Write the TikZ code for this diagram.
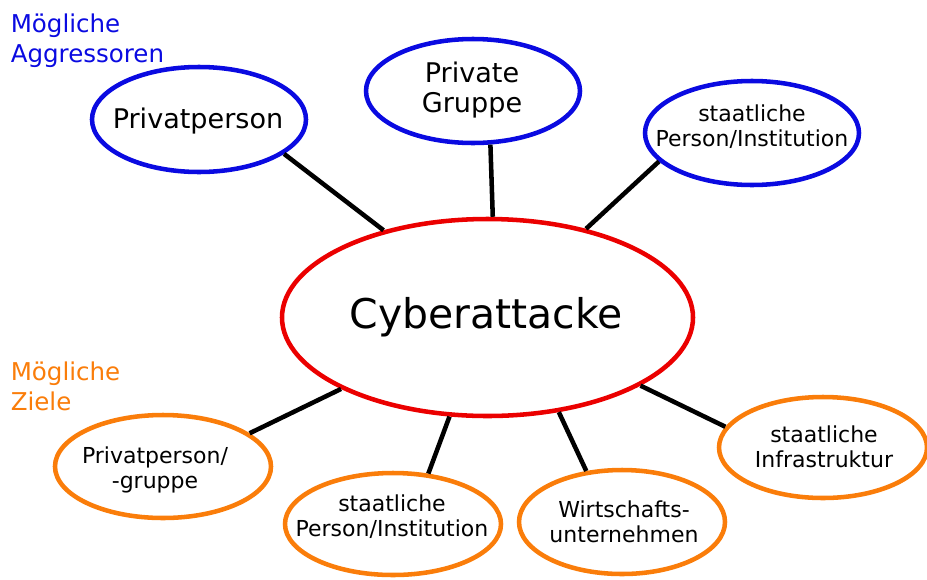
\documentclass[tikz,border=0pt]{standalone}
\usepackage{fontspec}
\setmainfont{DejaVu Sans}
\usepackage{tikz}
\usetikzlibrary{shapes,positioning}
\definecolor{aggblue}{RGB}{10,10,225}
\definecolor{zielorange}{RGB}{250,125,10}
\definecolor{attackred}{RGB}{235,0,0}
\tikzset{
  aggressor/.style={ellipse, draw=aggblue, line width=3.4pt, inner sep=0pt},
  ziel/.style={ellipse, draw=zielorange, line width=3.4pt, inner sep=0pt},
  mitte/.style={ellipse, draw=attackred, line width=3.4pt, inner sep=0pt},
  gross/.style={font=\fontsize{20.3}{22.5}\selectfont, align=center},
  klein/.style={font=\fontsize{16.5}{18.75}\selectfont, align=center},
  gruppe/.style={font=\fontsize{18.4}{22.5}\selectfont, align=left, anchor=north west, inner sep=0pt},
  verbindung/.style={line width=3.4pt}
}

\begin{document}
\begin{tikzpicture}[x=0.75pt,y=-0.75pt]
\useasboundingbox (0,0) rectangle (927,579);
\node[mitte, minimum width=308.25pt, minimum height=147.75pt] (c) at (487.5,317.5) {};
\node[aggressor, minimum width=160.5pt, minimum height=78.75pt] (pp) at (199,119.5) {};
\node[aggressor, minimum width=160.5pt, minimum height=78pt] (pg) at (473,91) {};
\node[aggressor, minimum width=160.5pt, minimum height=78pt] (st) at (752,133) {};
\node[ziel, minimum width=162pt, minimum height=77.25pt] (pz) at (163,466.5) {};
\node[ziel, minimum width=162pt, minimum height=76.5pt] (sz) at (393,524) {};
\node[ziel, minimum width=154.5pt, minimum height=78pt] (wu) at (622,522) {};
\node[ziel, minimum width=156pt, minimum height=75.75pt] (si) at (823,447.5) {};
\node[font=\fontsize{30.7}{36}\selectfont] (c-t) at (486,317) {Cyberattacke};
\node[gross] (pp-t) at (198,121) {Privatperson};
\node[gross] (pg-t) at (472,90) {Private\\Gruppe};
\node[klein] (st-t) at (752,127) {staatliche\\Person/Institution};
\node[klein] (pz-t) at (155,469.5) {Privatperson/\\-gruppe};
\node[klein] (sz-t) at (392,517) {staatliche\\Person/Institution};
\node[klein] (wu-t) at (624,521.5) {Wirtschafts-\\unternehmen};
\node[klein] (si-t) at (824,447) {staatliche\\Infrastruktur};
\node[gruppe, text=aggblue] (agg) at (10.5,13.4) {Mögliche\\Aggressoren};
\node[gruppe, text=zielorange] (zie) at (10.5,361.4) {Mögliche\\Ziele};
\draw[verbindung] (pp.338) -- (c.140);
\draw[verbindung] (pg.288) -- (c.87);
\draw[verbindung] (st.197) -- (c.42);
\draw[verbindung] (pz.21) -- (c.206);
\draw[verbindung] (sz.55) -- (c.249);
\draw[verbindung] (wu.125) -- (c.307);
\draw[verbindung] (si.168) -- (c.336);
\end{tikzpicture}
\end{document}
